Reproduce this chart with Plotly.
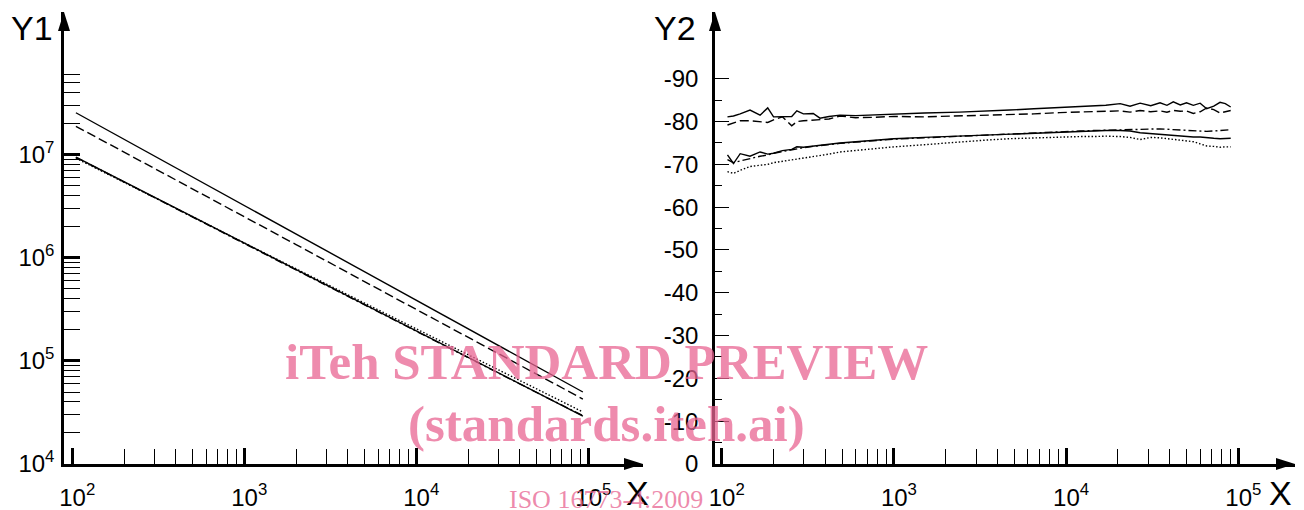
import plotly.graph_objects as go

# ---------------- data: left panel (Y1 vs X, log-log) ----------------
x1 = [105, 200, 500, 1000, 2000, 5000, 10000, 20000, 50000, 93000]
y1_a = [2.57e7, 1.42e7, 6.12e6, 3.24e6, 1.71e6, 7.36e5, 3.89e5, 2.06e5, 8.85e4, 5.0e4]
y1_b = [1.90e7, 1.07e7, 4.68e6, 2.51e6, 1.35e6, 5.90e5, 3.16e5, 1.69e5, 7.43e4, 4.27e4]
y1_c = [9.55e6, 5.51e6, 2.52e6, 1.39e6, 7.71e5, 3.53e5, 1.95e5, 1.08e5, 4.95e4, 2.92e4]
y1_d = [9.50e6, 5.45e6, 2.50e6, 1.38e6, 7.65e5, 3.50e5, 1.94e5, 1.07e5, 4.95e4, 2.95e4]
y1_e = [9.30e6, 5.45e6, 2.52e6, 1.40e6, 7.90e5, 3.65e5, 2.05e5, 1.15e5, 5.30e4, 3.20e4]

# ---------------- data: right panel (Y2 vs X) ----------------
x2 = [108, 117, 128, 146, 167, 185, 200, 225, 255, 273, 298, 340, 372, 420, 486, 600,
      760, 1000, 1500, 2400, 3500, 4700, 6500, 9200, 12000, 14400, 17000, 20600, 23500,
      26900, 31000, 35100, 38500, 41900, 46000, 50000, 54800, 60000, 65500, 72000,
      78300, 84000, 90300]
y2_a = [-81.1, -81.3, -81.8, -82.7, -81.5, -83.2, -81.1, -81.2, -81.2, -82.5, -81.8, -81.9,
        -80.8, -81.2, -81.5, -81.4, -81.6, -81.8, -82.0, -82.2, -82.4, -82.7, -83.0, -83.3,
        -83.5, -83.7, -83.8, -84.2, -83.6, -84.3, -83.7, -84.4, -83.8, -84.6, -83.9, -84.4,
        -83.8, -84.3, -83.0, -83.6, -84.5, -84.2, -83.4]
y2_b = [-79.2, -79.6, -80.2, -80.2, -80.0, -79.8, -80.4, -81.1, -79.0, -80.0, -80.2, -80.4,
        -80.5, -80.6, -81.3, -80.9, -81.0, -81.2, -81.1, -81.3, -81.5, -81.7, -81.8, -82.1,
        -82.2, -82.4, -82.3, -82.5, -82.2, -82.6, -82.3, -82.5, -82.2, -82.6, -82.4, -82.5,
        -81.9, -82.3, -83.2, -82.8, -82.0, -82.3, -82.6]
y2_c = [-72.2, -70.2, -72.5, -71.9, -72.9, -72.4, -72.6, -73.2, -73.5, -74.1, -74.0, -74.3,
        -74.5, -74.7, -75.0, -75.3, -75.7, -76.0, -76.3, -76.6, -76.9, -77.1, -77.4, -77.6,
        -77.7, -77.8, -77.9, -77.9, -77.8, -77.4, -77.2, -77.0, -76.9, -76.8, -76.6, -76.5,
        -76.4, -76.4, -76.2, -76.1, -76.0, -76.1, -76.1]
y2_d = [-71.1, -70.4, -70.8, -71.4, -71.9, -72.2, -72.6, -73.0, -73.4, -73.7, -73.9, -74.2,
        -74.4, -74.6, -74.9, -75.2, -75.6, -75.9, -76.2, -76.6, -76.9, -77.1, -77.3, -77.6,
        -77.8, -77.9, -78.0, -78.1, -78.2, -78.2, -78.3, -78.3, -78.2, -78.1, -78.0, -77.9,
        -77.9, -77.8, -77.7, -77.8, -77.9, -78.0, -78.1]
y2_e = [-68.3, -67.9, -68.6, -69.5, -69.8, -70.0, -70.4, -70.7, -71.0, -71.3, -71.5, -71.8,
        -72.0, -72.4, -72.9, -73.3, -73.7, -74.1, -74.6, -75.3, -75.7, -76.0, -76.2, -76.4,
        -76.5, -76.5, -76.6, -76.5, -76.3, -75.8, -76.3, -76.2, -76.0, -75.8, -75.6, -75.4,
        -75.3, -74.8, -74.3, -74.2, -74.0, -74.1, -74.1]

# ---------------- tick labels ----------------
x_tick_vals = [1e2, 1e3, 1e4, 1e5]
x_tick_text = ["10<sup>2</sup>", "10<sup>3</sup>", "10<sup>4</sup>", "10<sup>5</sup>"]
y1_tick_vals = [1e4, 1e5, 1e6, 1e7]
y1_tick_text = ["10<sup>4</sup>", "10<sup>5</sup>", "10<sup>6</sup>", "10<sup>7</sup>"]
y2_tick_vals = [0, -10, -20, -30, -40, -50, -60, -70, -80, -90]
y2_tick_text = ["0", "-10", "-20", "-30", "-40", "-50", "-60", "-70", "-80", "-90"]

# ---------------- styles ----------------
dashes = ["solid", "9px,4px", "solid", "8px,3px,2px,3px", "1.5px,2px"]
W, H = 1304, 510
FONT = "Arial, Liberation Sans, sans-serif"

x_minor = [m * 10 ** e for e in (2, 3, 4) for m in range(2, 10)]
y1_minor = [m * 10 ** e for e in (4, 5, 6) for m in range(2, 10)] + [m * 1e7 for m in range(2, 7)]
y2_minor = [-5 - 10 * k for k in range(9)]

fig = go.Figure()
for ys, d in zip([y1_a, y1_b, y1_c, y1_d, y1_e], dashes):
    fig.add_trace(go.Scatter(x=x1, y=ys, mode="lines", xaxis="x", yaxis="y",
                             line=dict(color="black", width=1.4, dash=d), hoverinfo="skip"))
for ys, d in zip([y2_a, y2_b, y2_c, y2_d, y2_e], dashes):
    fig.add_trace(go.Scatter(x=x2, y=ys, mode="lines", xaxis="x2", yaxis="y2",
                             line=dict(color="black", width=1.4, dash=d), hoverinfo="skip"))

ydom = [1 - 464 / H, 1 - 12 / H]
common = dict(showline=True, linewidth=2.5, linecolor="black", showgrid=False, zeroline=False,
              automargin=False,
              ticks="inside", tickcolor="black", tickfont=dict(family=FONT, size=24, color="black"))

fig.update_layout(
    template="none",
    width=W, height=H, margin=dict(l=0, r=0, t=0, b=0, pad=0),
    paper_bgcolor="white", plot_bgcolor="white", showlegend=False,
    xaxis=dict(type="log", domain=[64 / W, 643 / W], range=[1.952, 5.318], anchor="y",
               tickmode="array", tickvals=x_tick_vals, ticktext=x_tick_text,
               ticklen=16, tickwidth=2.5, ticklabelstandoff=10, ticklabelshift=5,
               minor=dict(ticks="inside", tickmode="array", tickvals=x_minor, ticklen=15,
                          tickwidth=1, tickcolor="black", showgrid=False), **common),
    yaxis=dict(type="log", domain=ydom, range=[4, 8.388], anchor="x",
               tickmode="array", tickvals=y1_tick_vals, ticktext=y1_tick_text,
               ticklen=16, tickwidth=2.5, ticklabelstandoff=2,
               minor=dict(ticks="inside", tickmode="array", tickvals=y1_minor, ticklen=16,
                          tickwidth=1, tickcolor="black", showgrid=False), **common),
    xaxis2=dict(type="log", domain=[715 / W, 1295 / W], range=[1.961, 5.329], anchor="y2",
                tickmode="array", tickvals=x_tick_vals, ticktext=x_tick_text,
                ticklen=16, tickwidth=2.5, ticklabelstandoff=10, ticklabelshift=5,
                minor=dict(ticks="inside", tickmode="array", tickvals=x_minor, ticklen=15,
                           tickwidth=1, tickcolor="black", showgrid=False), **common),
    yaxis2=dict(type="linear", domain=ydom, range=[0, -105.6], anchor="x2",
                tickmode="array", tickvals=y2_tick_vals, ticktext=y2_tick_text,
                ticklen=14, tickwidth=1, ticklabelstandoff=9,
                minor=dict(ticks="inside", tickmode="array", tickvals=y2_minor, ticklen=7,
                           tickwidth=1, tickcolor="black", showgrid=False), **common),
)

# arrowheads at the axis ends
def arrow(px, py, path):
    fig.add_shape(type="path", xref="paper", yref="paper", xsizemode="pixel", ysizemode="pixel",
                  xanchor=px / W, yanchor=1 - py / H, path=path,
                  fillcolor="black", line=dict(width=0), layer="above")

up = "M0,0 L-6,-19 L6,-19 Z"
right = "M0,0 L-19,6 L-19,-6 Z"
arrow(64, 12, up)
arrow(715, 12, up)
arrow(643, 464, right)
arrow(1295, 464, right)

def label(text, px, py, size=34, **kw):
    fig.add_annotation(text=text, x=px / W, y=1 - py / H, xref="paper", yref="paper",
                       showarrow=False, xanchor="center", yanchor="middle",
                       font=dict(family=FONT, size=size, color="black"), **kw)

label("Y1", 32, 28)
label("Y2", 675, 28)
label("X", 637, 493)
label("X", 1280, 493)

# watermark
WM = "rgba(232,100,145,0.75)"
SERIF = "Liberation Serif, Times New Roman, serif"
for txt, py, sz in [("<b>iTeh STANDARD PREVIEW</b>", 362, 51),
                    ("<b>(standards.iteh.ai)</b>", 424, 51),
                    ("ISO 16773-4:2009", 499, 26)]:
    fig.add_annotation(text=txt, x=606 / W, y=1 - py / H, xref="paper", yref="paper",
                       showarrow=False, xanchor="center", yanchor="middle",
                       font=dict(family=SERIF, size=sz, color=WM))

fig.write_html("out.html", config={"displayModeBar": False},
               post_script="document.body.style.margin='0';document.body.style.overflow='hidden';")
